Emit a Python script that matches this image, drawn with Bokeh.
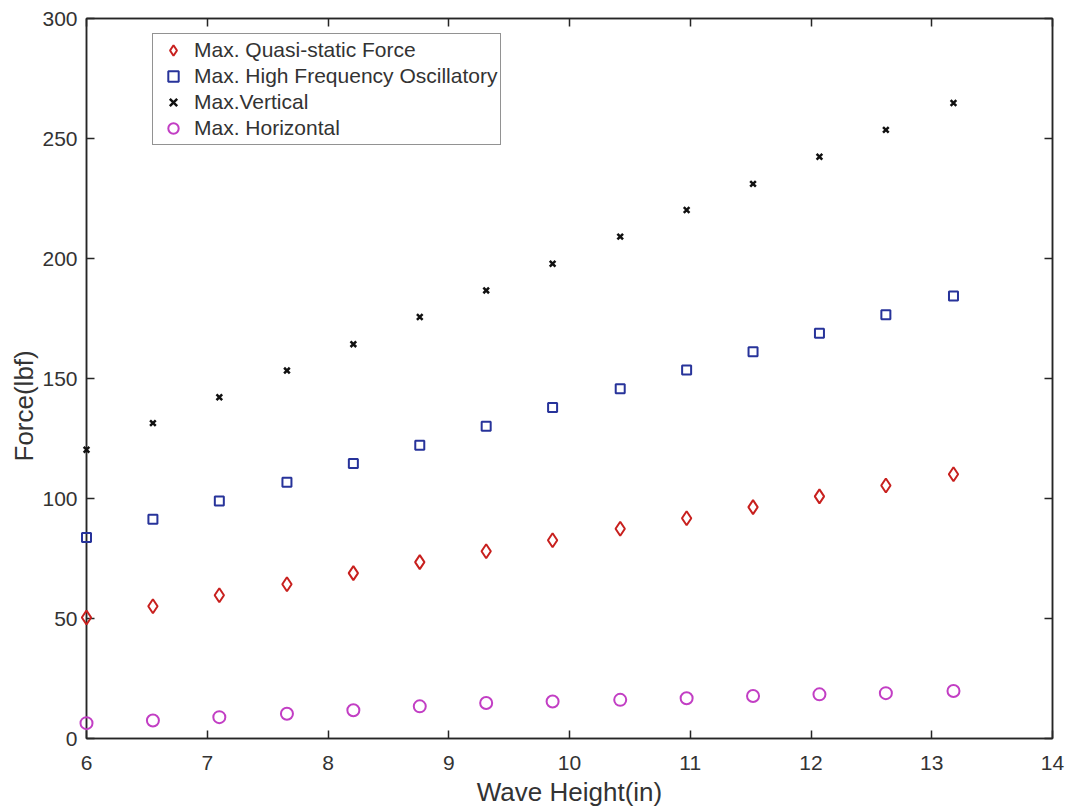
from bokeh.plotting import figure
from bokeh.models import (LinearAxis, FixedTicker, Range1d, Legend, LegendItem,
                          CustomJSTickFormatter, Title)
from bokeh.embed import file_html
from bokeh.resources import INLINE

# ---- data ----
wave_height = [6.00, 6.55, 7.10, 7.66, 8.21, 8.76, 9.31, 9.86, 10.42, 10.97, 11.52, 12.07, 12.62, 13.18]
quasi_static = [50.4, 55.1, 59.7, 64.3, 68.9, 73.5, 78.0, 82.6, 87.4, 91.8, 96.4, 100.9, 105.4, 110.1]
high_freq = [83.8, 91.4, 99.0, 106.8, 114.6, 122.2, 130.1, 137.9, 145.7, 153.5, 161.1, 168.9, 176.6, 184.4]
vertical = [120.3, 131.4, 142.2, 153.3, 164.3, 175.6, 186.7, 197.8, 209.1, 220.2, 231.1, 242.4, 253.6, 264.8]
horizontal = [6.4, 7.5, 8.9, 10.3, 11.8, 13.4, 14.8, 15.4, 16.1, 16.8, 17.7, 18.4, 18.9, 19.8]
series_labels = ["Max. Quasi-static Force", "Max. High Frequency Oscillatory",
                 "Max.Vertical", "Max. Horizontal"]
x_ticks = [6, 7, 8, 9, 10, 11, 12, 13, 14]
y_ticks = [0, 50, 100, 150, 200, 250, 300]
x_title = "Wave Height(in)"
y_title = "Force(lbf)"

FONT = "Liberation Sans"
AXC = "#262626"
TXC = "#333333"

p = figure(width=1069, height=809, x_range=Range1d(6, 14), y_range=Range1d(0, 300),
           output_backend="svg", toolbar_location=None,
           min_border_left=86, min_border_right=17, min_border_top=18, min_border_bottom=71,
           x_axis_label=x_title)
p.xgrid.visible = False
p.ygrid.visible = False
p.outline_line_color = AXC
p.outline_line_width = 1.5
p.background_fill_color = "white"
p.border_fill_color = "white"

p.xaxis.ticker = FixedTicker(ticks=x_ticks)
p.yaxis.ticker = FixedTicker(ticks=y_ticks)

def style_axis(ax):
    ax.axis_line_color = AXC
    ax.axis_line_width = 1.5
    ax.major_tick_in = 8
    ax.major_tick_out = 0
    ax.minor_tick_in = 0
    ax.minor_tick_out = 0
    ax.major_tick_line_color = AXC
    ax.major_tick_line_width = 1.5
    ax.major_label_text_font = FONT
    ax.major_label_text_font_size = "21px"
    ax.major_label_text_color = TXC
    ax.axis_label_text_font = FONT
    ax.axis_label_text_font_size = "26px"
    ax.axis_label_text_font_style = "normal"
    ax.axis_label_text_color = TXC

for ax in p.xaxis + p.yaxis:
    style_axis(ax)
p.xaxis.major_label_standoff = 17
p.xaxis.axis_label_standoff = 4
p.yaxis.major_label_standoff = 9

top = LinearAxis(ticker=FixedTicker(ticks=x_ticks), formatter=CustomJSTickFormatter(code="return ''"))
right = LinearAxis(ticker=FixedTicker(ticks=y_ticks), formatter=CustomJSTickFormatter(code="return ''"))
for ax in (top, right):
    style_axis(ax)
    ax.major_label_standoff = 0
p.add_layout(top, "above")
p.add_layout(right, "right")

# y-axis title, slightly below the axis centre as in the reference
p.add_layout(Title(text=y_title, align="left", offset=277, text_font=FONT,
                   text_font_size="26px", text_font_style="normal", text_color=TXC,
                   standoff=2), "left")

r1 = p.scatter(wave_height, quasi_static, marker="diamond", size=14, fill_color=None,
               line_color="#c8201e", line_width=2, level="overlay")
r2 = p.scatter(wave_height, high_freq, marker="square", size=9, fill_color=None,
               line_color="#27339a", line_width=2, level="overlay")
r3 = p.scatter(wave_height, vertical, marker="x", size=8, line_color="#111111",
               line_width=2.5, level="overlay")
r4 = p.scatter(wave_height, horizontal, marker="circle", size=12, fill_color=None,
               line_color="#c23ec4", line_width=2, level="overlay")

legend = Legend(items=[LegendItem(label=lab, renderers=[r])
                       for lab, r in zip(series_labels, [r1, r2, r3, r4])],
                location=(66, 593))
legend.border_line_color = AXC
legend.border_line_width = 1.5
legend.background_fill_color = "white"
legend.background_fill_alpha = 1.0
legend.label_text_font = FONT
legend.label_text_font_size = "21px"
legend.label_text_color = TXC
legend.glyph_height = 26
legend.glyph_width = 34
legend.label_height = 26
legend.spacing = 0
legend.padding = 3
legend.margin = 0
legend.label_standoff = 4
p.add_layout(legend)

open("out.html", "w").write(file_html(p, INLINE))
